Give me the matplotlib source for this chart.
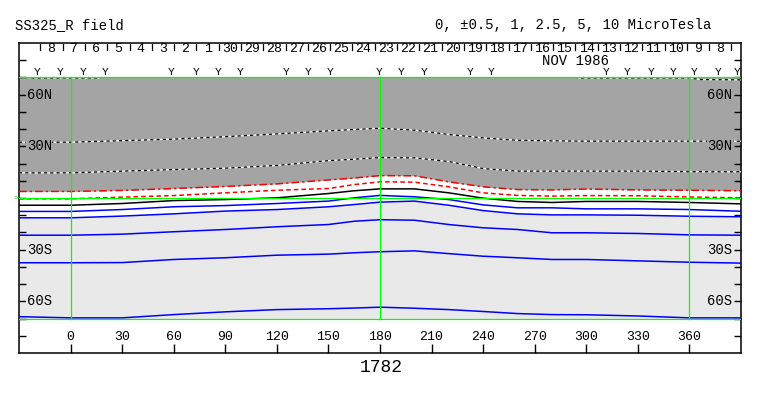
import numpy as np
import matplotlib
matplotlib.use("Agg")
import matplotlib.pyplot as plt
from matplotlib.patches import Rectangle

plt.rcParams['font.family'] = ['Liberation Mono', 'DejaVu Sans Mono']

# Carrington longitude grid at which the contour latitudes were read
lon = [-30, 0, 30, 60, 90, 120, 150, 165, 180, 200, 220, 240, 260, 280, 300, 330, 360, 390]

# contour latitudes (deg) for each field level (microTesla)
lat_p5 = [32.4, 32.4, 33.3, 34.2, 35.6, 37.2, 39.0, 39.8, 40.5, 39.4, 36.9, 34.9, 33.5, 33.2, 33.0, 33.0, 33.0, 33.0]
lat_p25 = [14.6, 14.6, 15.6, 16.5, 17.3, 18.9, 21.7, 22.5, 23.5, 23.3, 21.2, 17.1, 15.6, 15.6, 15.6, 15.6, 15.3, 15.2]
lat_p1 = [3.8, 3.8, 4.4, 5.5, 6.7, 8.2, 10.5, 11.6, 13.0, 12.9, 9.4, 6.5, 4.9, 4.7, 5.2, 4.7, 4.5, 4.2]
lat_p05 = [-0.5, -0.5, 0.5, 1.4, 3.0, 4.5, 5.5, 7.8, 9.4, 9.2, 6.5, 3.0, 1.5, 1.1, 1.4, 1.3, 0.6, 0.1]
lat_0 = [-4.2, -4.2, -3.2, -1.5, -0.9, 0.1, 2.6, 4.2, 5.3, 5.3, 3.0, -0.1, -2.0, -2.6, -2.0, -2.0, -2.6, -3.4]
lat_m05 = [-7.8, -7.8, -6.7, -5.1, -4.4, -3.2, -1.8, 0.1, 1.5, 0.7, -0.9, -4.0, -5.7, -5.7, -6.3, -6.3, -6.7, -7.7]
lat_m1 = [-11.5, -11.5, -10.5, -9.2, -7.6, -6.7, -5.1, -3.8, -2.4, -1.8, -4.2, -7.3, -9.2, -9.8, -9.8, -10.0, -10.6, -10.9]
lat_m25 = [-21.6, -21.6, -21.0, -19.6, -18.3, -16.7, -15.4, -13.5, -12.6, -12.9, -15.4, -17.3, -18.3, -20.2, -20.2, -20.6, -21.4, -21.6]
lat_m5 = [-37.6, -37.6, -37.5, -35.7, -34.7, -33.2, -32.6, -31.8, -31.2, -30.7, -32.3, -33.8, -34.7, -35.7, -35.7, -36.5, -37.3, -37.8]
lat_m10 = [-68.9, -69.6, -69.6, -67.7, -66.1, -64.8, -64.3, -63.9, -63.4, -64.0, -64.8, -65.9, -67.1, -67.7, -67.8, -68.5, -69.6, -69.6]

# +10 contour only touches the top edge
lon_p10 = [-30, -22, 16, 24, 288, 296, 360, 366, 390]
lat_p10 = [70.8, 69.7, 69.7, 70.8, 70.8, 69.7, 69.7, 68.8, 68.6]

# dates along the top (Dec 8 ... Nov 8, 1986), Carrington rotation 1782
day_labels = ['8', '7', '6', '5', '4', '3', '2', '1', '30', '29', '28', '27', '26', '25', '24',
              '23', '22', '21', '20', '19', '18', '17', '16', '15', '14', '13', '12', '11', '10', '9', '8']
first_day_edge = -17.6
day_step = 12.97

# observation markers along the top
obs_lon = [-19.5, -6.1, 7.0, 19.9, 58.7, 72.9, 85.9, 98.8, 125.1, 137.9, 151.2, 179.6,
           192.5, 205.8, 232.6, 244.6, 311.5, 323.6, 337.5, 350.4, 362.9, 376.4, 387.9]

x_ticks = [0, 30, 60, 90, 120, 150, 180, 210, 240, 270, 300, 330, 360]
lat_ticks = [60, 30, -30, -60]
lat_names = ['60N', '30N', '30S', '60S']

rotation = '1782'
title = 'SS325_R field'
levels_text = '0, \u00b10.5, 1, 2.5, 5, 10 MicroTesla'

GRAY = '#a4a4a4'
LIGHT = '#e9e9e9'
GREEN = '#00ff00'
BLUE = '#0000ff'
RED = '#ff0000'

fig = plt.figure(figsize=(7.63, 3.96), dpi=100)
ax = fig.add_axes([19 / 763, 1 - 353 / 396, 722 / 763, 310 / 396])
ax.set_xlim(-30, 390)
ax.set_ylim(-90, 90)

# filled regions
ax.fill_between(lon, lat_p1, 70, color=GRAY, lw=0, zorder=1)
ax.fill_between(lon, -70, lat_m1, color=LIGHT, lw=0, zorder=1)

clip = Rectangle((-30, -70), 420, 140, transform=ax.transData)

# positive contours in the gray: black/white dotted
for lats, ln in [(lat_p5, lon), (lat_p25, lon), (lat_p10, lon_p10)]:
    l1, = ax.plot(ln, lats, color='white', lw=0.9, zorder=3)
    l2, = ax.plot(ln, lats, color='black', lw=0.9, dashes=(2.5, 2.5), zorder=3)
    l1.set_clip_path(clip)
    l2.set_clip_path(clip)

ax.plot(lon, lat_p1, color=RED, lw=1.1, dashes=(5, 2, 1.5, 2), zorder=3)
ax.plot(lon, lat_p05, color=RED, lw=1.1, dashes=(3, 2), zorder=3)
ax.plot(lon, lat_0, color='black', lw=1.1, zorder=3)
for lats in [lat_m05, lat_m1, lat_m25, lat_m5, lat_m10]:
    ax.plot(lon, lats, color=BLUE, lw=1.1, zorder=3)

# green frame lines
for y in [70, 0, -70]:
    ax.plot([-30, 390], [y, y], color=GREEN, lw=0.9, zorder=4)
for x in [0, 180, 360]:
    ax.plot([x, x], [-70, 70], color=GREEN, lw=0.9, zorder=4)
ax.text(-30.5, 0, '>', color=GREEN, fontsize=6, ha='right', va='center', zorder=5, clip_on=False)

# ticks
ax.set_xticks(x_ticks)
ax.set_xticklabels([])
ax.set_yticks(range(-80, 90, 10))
ax.set_yticklabels([])
ax.tick_params(axis='x', direction='in', length=6.5, width=1, bottom=True, top=False)
ax.tick_params(axis='y', direction='in', length=5, width=1, left=True, right=True)
for s in ax.spines.values():
    s.set_linewidth(1.1)

for x in x_ticks:
    ax.text(x, -81, str(x), fontsize=9.5, ha='center', va='center')

for lt, nm in zip(lat_ticks, lat_names):
    bg = GRAY if lt > 0 else LIGHT
    ax.text(-25.5, lt, nm, fontsize=10, ha='left', va='center', zorder=6,
            bbox=dict(facecolor=bg, edgecolor='none', pad=0.3))
    ax.text(385, lt, nm, fontsize=10, ha='right', va='center', zorder=6,
            bbox=dict(facecolor=bg, edgecolor='none', pad=0.3))

# date row
for i, lab in enumerate(day_labels):
    e0 = first_day_edge + i * day_step
    ax.plot([e0, e0], [86, 89.5], color='black', lw=0.9)
    ax.text(e0 + day_step / 2, 86.7, lab, fontsize=9.5, ha='center', va='center')
e_last = first_day_edge + len(day_labels) * day_step
ax.plot([e_last, e_last], [86, 89.5], color='black', lw=0.9)
ax.text(294, 79.7, 'NOV 1986', fontsize=10, ha='center', va='center')

for x in obs_lon:
    ax.text(x, 70.2, 'Y', fontsize=8, ha='center', va='bottom', zorder=5)

fig.text(15 / 763, 1 - 25 / 396, title, fontsize=10, ha='left', va='center')
fig.text(711 / 763, 1 - 25 / 396, levels_text, fontsize=10, ha='right', va='center')
fig.text(381 / 763, 1 - 367 / 396, rotation, fontsize=13, ha='center', va='center')

fig.savefig('out.png', dpi=100)
